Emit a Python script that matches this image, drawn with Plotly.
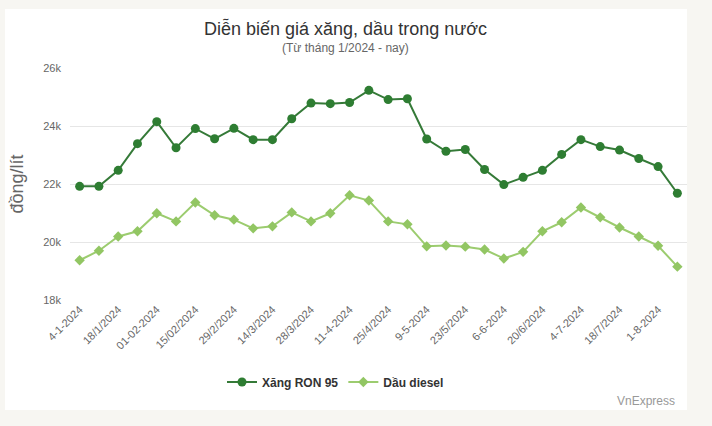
import plotly.graph_objects as go

dates = ["4-1-2024", "11-1-2024", "18/1/2024", "25/1/2024", "01-02-2024", "08-02-2024",
         "15/02/2024", "22/02/2024", "29/2/2024", "7/3/2024", "14/3/2024", "21/3/2024",
         "28/3/2024", "4-4-2024", "11-4-2024", "18-4-2024", "25/4/2024", "2-5-2024",
         "9-5-2024", "16/5/2024", "23/5/2024", "30/5/2024", "6-6-2024", "13/6/2024",
         "20/6/2024", "27/6/2024", "4-7-2024", "11/7/2024", "18/7/2024", "25/7/2024",
         "1-8-2024", "8-8-2024"]

ron95 = [21920, 21920, 22470, 23390, 24150, 23250, 23910, 23560, 23920, 23530, 23530, 24250,
         24790, 24770, 24810, 25230, 24910, 24940, 23550, 23130, 23190, 22500, 21980, 22230,
         22470, 23020, 23530, 23290, 23170, 22880, 22600, 21680]

diesel = [19370, 19700, 20190, 20370, 20990, 20710, 21360, 20920, 20770, 20470, 20540, 21020,
          20710, 20990, 21610, 21430, 20710, 20610, 19850, 19880, 19840, 19740, 19430, 19660,
          20370, 20680, 21190, 20850, 20500, 20190, 19870, 19150]

shown_labels = dates[0::2]
y_ticks = [18000, 20000, 22000, 24000, 26000]
y_tick_text = ["18k", "20k", "22k", "24k", "26k"]

FONT = "Liberation Sans, Arial, sans-serif"
W, H = 712, 426
ML, MR, MT, MB = 70, 25, 68, 126

idx = list(range(len(dates)))

fig = go.Figure()
fig.add_trace(go.Scatter(
    x=idx, y=ron95, name="<b>Xăng RON 95</b>", mode="lines+markers",
    line=dict(color="#357a38", width=2),
    marker=dict(symbol="circle", size=9, color="#2e7d32"),
))
fig.add_trace(go.Scatter(
    x=idx, y=diesel, name="<b>Dầu diesel</b>", mode="lines+markers",
    line=dict(color="#9ccc6f", width=2),
    marker=dict(symbol="diamond", size=8, color="#92c663"),
))

pw = W - ML - MR
ph = H - MT - MB

def px_x(x):
    return (x - ML) / pw

def px_y(y):
    return (H - MB - y) / ph

fig.add_shape(type="rect", xref="paper", yref="paper",
              x0=px_x(5), x1=px_x(687), y0=px_y(410), y1=px_y(9),
              fillcolor="white", line=dict(width=0), layer="below")

fig.update_layout(
    width=W, height=H,
    margin=dict(l=ML, r=MR, t=MT, b=MB),
    paper_bgcolor="#f7f6f2",
    plot_bgcolor="rgba(0,0,0,0)",
    font=dict(family=FONT, color="#666666"),
    showlegend=True,
    legend=dict(orientation="h", x=px_x(222), xanchor="left", y=px_y(382), yanchor="middle",
                font=dict(size=12, color="#333333", family=FONT),
                itemwidth=30, bgcolor="rgba(0,0,0,0)"),
    xaxis=dict(
        range=[-0.5, len(dates) - 0.5],
        tickmode="array", tickvals=idx[0::2], ticktext=shown_labels,
        tickangle=-45, tickfont=dict(size=11, color="#666666"),
        showgrid=False, zeroline=False, showline=False, ticks="",
    ),
    yaxis=dict(
        range=[18000, 26000],
        tickmode="array", tickvals=y_ticks, ticktext=y_tick_text,
        tickfont=dict(size=11, color="#666666"),
        gridcolor="#e6e6e6", gridwidth=1, zeroline=False, showline=False,
        ticks="", ticklabelstandoff=8,
        title=dict(text="đồng/lít", font=dict(size=18, color="#666666"), standoff=14),
    ),
    annotations=[
        dict(text="Diễn biến giá xăng, dầu trong nước", xref="paper", yref="paper",
             x=px_x(345), y=px_y(28), xanchor="center", yanchor="middle", showarrow=False,
             font=dict(size=18, color="#333333", family=FONT)),
        dict(text="(Từ tháng 1/2024 - nay)", xref="paper", yref="paper",
             x=px_x(345), y=px_y(48), xanchor="center", yanchor="middle", showarrow=False,
             font=dict(size=12, color="#666666", family=FONT)),
        dict(text="VnExpress", xref="paper", yref="paper",
             x=px_x(677), y=px_y(401), xanchor="right", yanchor="middle", showarrow=False,
             font=dict(size=12, color="#999999", family=FONT)),
    ],
)

fig.write_html("out.html")
